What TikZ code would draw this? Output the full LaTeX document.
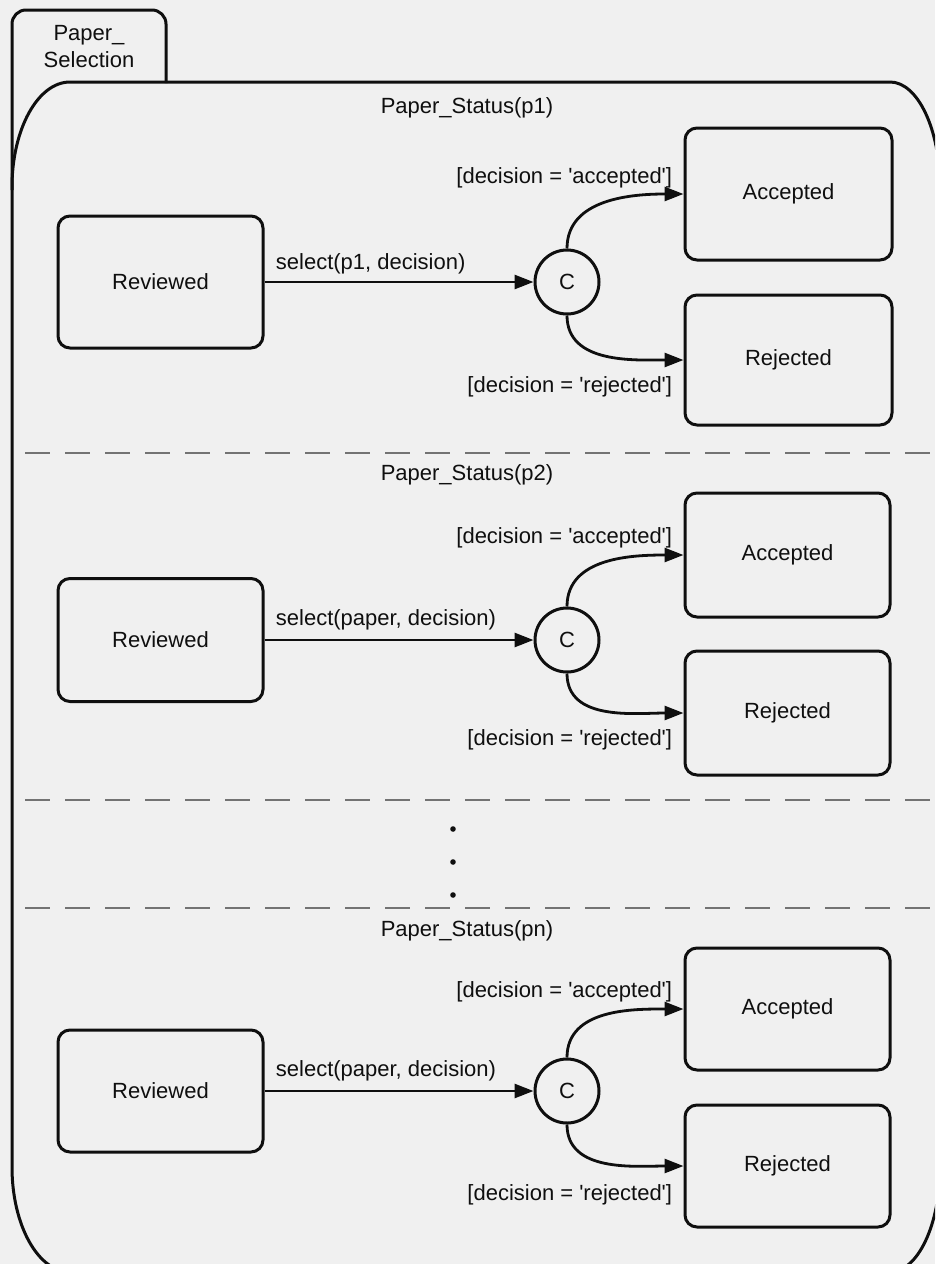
\documentclass[tikz,border=0pt]{standalone}
\usepackage{fontspec}
\setmainfont{Liberation Sans}
\usetikzlibrary{arrows.meta}
\definecolor{bg}{RGB}{240,240,240}
\definecolor{ink}{RGB}{15,15,15}
\definecolor{dashc}{RGB}{115,115,115}
\newcommand{\sq}{\textquotesingle}
\begin{document}
\begin{tikzpicture}[x=1pt,y=-1pt,
  txt/.style={font=\fontsize{22}{27}\selectfont, text=ink},
  state/.style={txt, draw=ink, line width=3pt, rounded corners=12pt,
    minimum width=205pt, inner sep=0pt},
  choice/.style={txt, circle, draw=ink, line width=3pt, minimum size=64pt, inner sep=0pt},
  arr/.style={draw=ink, line width=2.8pt, -{Triangle[length=19pt,width=14pt]}},
  lbl/.style={txt, inner sep=0pt},
  sep/.style={draw=dashc, line width=1.7pt, dash pattern=on 25pt off 15pt, dash phase=27pt},
  outline/.style={draw=ink, line width=3pt}
]
\fill[bg] (0,0) rectangle (935,1264);
\useasboundingbox (0,0) rectangle (935,1264);
\clip (0,0) rectangle (935,1264);

% outer state with tab
\draw[outline, rounded corners=14pt] (12,190) |- (166,10) -- (166,83);
\draw[outline] (70,82) -- (890,82)
  .. controls (917.6,82) and (940,129) .. (940,187) -- (940,1167)
  .. controls (940,1225) and (917.6,1272) .. (890,1272) -- (70,1272)
  .. controls (38,1272) and (12,1225) .. (12,1167) -- (12,187)
  .. controls (12,129) and (38,82) .. (70,82) -- cycle;
\node[txt, align=center] (tab) at (89,47) {Paper\_\\Selection};

% separators
\draw[sep] (12,453) coordinate (s1a) -- (935,453) coordinate (s1b);
\draw[sep] (12,800) coordinate (s2a) -- (935,800) coordinate (s2b);
\draw[sep] (12,908) coordinate (s3a) -- (935,908) coordinate (s3b);

% dots
\fill[ink] (453,829) circle[radius=2.8];
\fill[ink] (453,862) circle[radius=2.8];
\fill[ink] (453,895) circle[radius=2.8];

% ---------- region 1 ----------
\node[txt] (t1) at (467,108) {Paper\_Status(p1)};
\node[state, minimum height=132pt] (r1) at (160.5,282) {Reviewed};
\node[choice] (c1) at (567,282) {C};
\node[state, minimum width=207pt, minimum height=132pt] (a1) at (788.5,194) {Accepted};
\node[state, minimum width=207pt, minimum height=130pt] (j1) at (788.5,360) {Rejected};
\draw[arr] (r1) -- node[lbl, pos=0, anchor=west, xshift=10pt, yshift=18pt] {select(p1, decision)} (c1);
\draw[arr] (c1.north) to[out=90,in=180] node[lbl, pos=1, anchor=east, xshift=-10pt, yshift=16pt] {[decision = \sq accepted\sq]} (a1.west);
\draw[arr] (c1.south) to[out=-90,in=180] node[lbl, pos=1, anchor=east, xshift=-10pt, yshift=-27pt] {[decision = \sq rejected\sq]} (j1.west);

% ---------- region 2 ----------
\node[txt] (t2) at (467,475) {Paper\_Status(p2)};
\node[state, minimum height=123pt] (r2) at (160.5,640) {Reviewed};
\node[choice] (c2) at (567,640) {C};
\node[state, minimum height=124pt] (a2) at (787.5,555) {Accepted};
\node[state, minimum height=124pt] (j2) at (787.5,713) {Rejected};
\draw[arr] (r2) -- node[lbl, pos=0, anchor=west, xshift=10pt, yshift=20pt] {select(paper, decision)} (c2);
\draw[arr] (c2.north) to[out=90,in=180] node[lbl, pos=1, anchor=east, xshift=-10pt, yshift=17pt] {[decision = \sq accepted\sq]} (a2.west);
\draw[arr] (c2.south) to[out=-90,in=180] node[lbl, pos=1, anchor=east, xshift=-10pt, yshift=-27pt] {[decision = \sq rejected\sq]} (j2.west);

% ---------- region n ----------
\node[txt] (t3) at (467,931) {Paper\_Status(pn)};
\node[state, minimum height=122pt] (r3) at (160.5,1091) {Reviewed};
\node[choice] (c3) at (567,1091) {C};
\node[state, minimum height=122pt] (a3) at (787.5,1009) {Accepted};
\node[state, minimum height=122pt] (j3) at (787.5,1166) {Rejected};
\draw[arr] (r3) -- node[lbl, pos=0, anchor=west, xshift=10pt, yshift=20pt] {select(paper, decision)} (c3);
\draw[arr] (c3.north) to[out=90,in=180] node[lbl, pos=1, anchor=east, xshift=-10pt, yshift=17pt] {[decision = \sq accepted\sq]} (a3.west);
\draw[arr] (c3.south) to[out=-90,in=180] node[lbl, pos=1, anchor=east, xshift=-10pt, yshift=-29pt] {[decision = \sq rejected\sq]} (j3.west);
\end{tikzpicture}
\end{document}
